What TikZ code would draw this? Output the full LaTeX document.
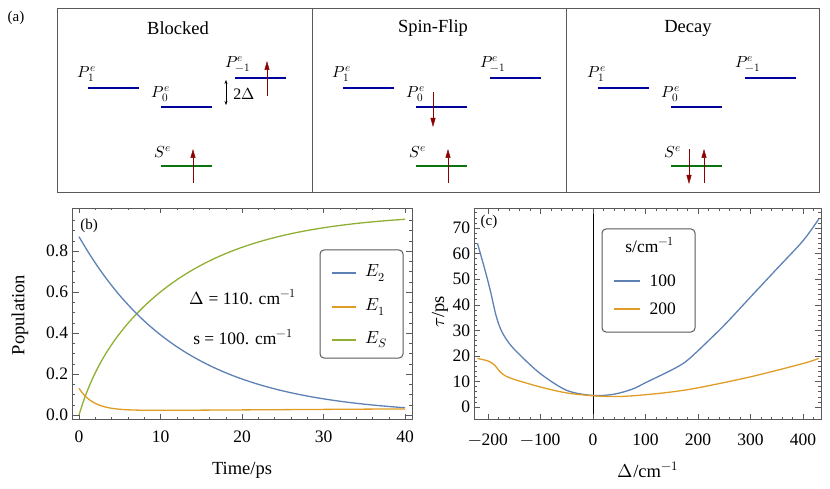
\documentclass[tikz,border=0pt]{standalone}
\usepackage{fontspec}
\setmainfont{Liberation Serif}
\usepackage{unicode-math}
\setmathfont{Latin Modern Math}
\usetikzlibrary{positioning}
\usetikzlibrary{arrows.meta}

\definecolor{mblue}{rgb}{0.368,0.507,0.71}
\definecolor{morange}{rgb}{0.88,0.611,0.142}
\definecolor{mgreen}{rgb}{0.56,0.692,0.195}
\definecolor{levblue}{rgb}{0,0,0.62}
\definecolor{levgreen}{rgb}{0.05,0.45,0.05}
\definecolor{spinred}{rgb}{0.55,0,0}

\tikzset{
  level/.style={line width=2pt},
  spin/.style={spinred, line width=0.5pt, -{Triangle[length=9pt,width=5pt]}},
  ticklab/.style={font=\fontsize{17.5}{17.5}\selectfont, inner sep=1pt},
  frame/.style={draw=gray!70!black, line width=0.6pt},
}

\begin{document}
\begin{tikzpicture}[x=1pt,y=-1pt]
	\useasboundingbox (0,0) rectangle (830,489);

	% Level scheme %
	\node (alab) at (16,18) {\fontsize{15}{15}\selectfont (a)};
	\draw [gray!70!black, line width=0.8pt] (57,8) rectangle (819,192);
	\draw [gray!70!black, line width=0.8pt] (312,8) -- (312,192);
	\draw [gray!70!black, line width=0.8pt] (566,8) -- (566,192);
	\foreach \dx/\name in {0/Blocked,255/Spin{-}Flip,510/Decay}{
		\begin{scope}[xshift=\dx]
			\node (title) at (178,28) {\fontsize{18.5}{18.5}\selectfont \name};
			\draw [level,levblue] (88,88) -- (139,88);
			\draw [level,levblue] (161,107) -- (212,107);
			\draw [level,levblue] (235,78) -- (286,78);
			\draw [level,levgreen] (161,166) -- (212,166);
			\node (p1) at (87,74) {\fontsize{16}{16}\selectfont $P^e_1$};
			\node (p0) at (161,94) {\fontsize{16}{16}\selectfont $P^e_0$};
			\node (pm) at (238,64) {\fontsize{16}{16}\selectfont $P^e_{-1}$};
			\node (se) at (163,152) {\fontsize{16}{16}\selectfont $S^e$};
		\end{scope}
	}
	% Spins %
	\draw [spin] (193,183) -- (193,149);
	\draw [spin] (267,96) -- (267,61);
	\draw [{Stealth[length=4pt]}-{Stealth[length=4pt]}, line width=0.5pt] (226,80) -- (226,105);
	\node (gap) at (244,94) {\fontsize{16}{16}\selectfont 2$\Delta$};
	\draw [spin] (433,92) -- (433,127);
	\draw [spin] (448,183) -- (448,149);
	\draw [spin] (689,149) -- (689,184);
	\draw [spin] (704,183) -- (704,149);

	% Panel b %
	\begin{scope}[shift={(79,415)}, xscale=8.15, yscale=-205]
		\draw [frame] (-0.86,-0.02) rectangle (40.9,1.01);
		\foreach \t in {0,2,...,40}{
			\draw [gray!70!black] (\t,-0.02) -- ++(0,0.012);
			\draw [gray!70!black] (\t,1.01) -- ++(0,-0.012);
		}
		\foreach \t in {0,10,20,30,40}{
			\draw [gray!70!black] (\t,-0.02) -- ++(0,0.025);
			\draw [gray!70!black] (\t,1.01) -- ++(0,-0.025);
			\node [ticklab] (bx\t) at (\t,-0.107) {\t};
		}
		\foreach \p in {0,0.05,...,1.0}{
			\draw [gray!70!black] (-0.86,\p) -- ++(0.4,0);
			\draw [gray!70!black] (40.9,\p) -- ++(-0.4,0);
		}
		\foreach \p/\l in {0/0.0,0.2/0.2,0.4/0.4,0.6/0.6,0.8/0.8}{
			\draw [gray!70!black] (-0.86,\p) -- ++(0.8,0);
			\draw [gray!70!black] (40.9,\p) -- ++(-0.8,0);
			\node [ticklab, anchor=east] (by\l) at (-1.2,\p) {\l};
		}
		\draw [mgreen, line width=1.3pt] plot[domain=0:40, samples=120, smooth]
			(\x,{1-0.87*exp(-\x/12.5)-(0.02+0.00025*\x+0.11*exp(-\x/1.8))+0.02*(1-exp(-\x/8))});
		\draw [mblue, line width=1.3pt] plot[domain=0:40, samples=100, smooth] (\x,{0.87*exp(-\x/12.5)});
		\draw [morange, line width=1.3pt] plot[domain=0:40, samples=100, smooth] (\x,{0.02+0.00025*\x+0.11*exp(-\x/1.8)});
	\end{scope}
	\node (blab) at (89,226) {\fontsize{15}{15}\selectfont (b)};
	\node [rotate=90] (bylab) at (20,315) {\fontsize{18.5}{18.5}\selectfont Population};
	\node (bxlab) at (242,470) {\fontsize{18.5}{18.5}\selectfont Time/ps};
	\node (delta) at (243,297) {\fontsize{17.5}{17.5}\selectfont $\Delta$ = 110. cm$^{-1}$};
	\node (sval) at (243,337) {\fontsize{17.5}{17.5}\selectfont s = 100. cm$^{-1}$};
	\draw [gray!70!black, line width=1pt, rounded corners=4pt] (320,250) rectangle (403,358);
	\foreach \y/\c/\l in {273/mblue/E_2,307/morange/E_1,340/mgreen/E_S}{
		\draw [\c, line width=1.3pt] (332,\y) -- (356,\y);
		\node [anchor=west] (leg\c) at (362,\y) {\fontsize{17.5}{17.5}\selectfont $\l$};
	}

	% Panel c %
	\begin{scope}[shift={(593,407)}, xscale=0.525, yscale=-2.557]
		\draw [frame] (-227,-5) rectangle (434,77.8);
		\draw [black, line width=0.5pt] (0,-5) -- (0,77.8);
		\foreach \d in {-200,-180,...,420}{
			\draw [gray!70!black] (\d,-5) -- ++(0,1.2);
			\draw [gray!70!black] (\d,77.8) -- ++(0,-1.2);
		}
		\foreach \d/\l in {-200/$-$200,-100/$-$100,0/0,100/100,200/200,300/300,400/400}{
			\draw [gray!70!black] (\d,-5) -- ++(0,2.4);
			\draw [gray!70!black] (\d,77.8) -- ++(0,-2.4);
			\node [ticklab] (cx\d) at (\d,-13) {\l};
		}
		\foreach \v in {0,2,...,76}{
			\draw [gray!70!black] (-227,\v) -- ++(6,0);
			\draw [gray!70!black] (434,\v) -- ++(-6,0);
		}
		\foreach \v in {0,10,...,70}{
			\draw [gray!70!black] (-227,\v) -- ++(12,0);
			\draw [gray!70!black] (434,\v) -- ++(-12,0);
			\node [ticklab, anchor=east] (cy\v) at (-232,\v) {\v};
		}
		\draw [mblue, line width=1.3pt] plot[smooth, tension=0.5] coordinates {
			(-220,64) (-205,53) (-195,45) (-185,36) (-175,30) (-160,25) (-140,20.5) (-100,13)
			(-50,6.5) (0,4.5) (40,5) (75,7) (100,9.5) (150,14.5) (175,17.5) (200,22) (250,32)
			(300,43) (350,54) (400,65) (430,73.5)};
		\draw [morange, line width=1.3pt] plot[smooth, tension=0.5] coordinates {
			(-220,19) (-200,18) (-188,16.5) (-178,14) (-168,12.3) (-150,10.8) (-100,7.8)
			(-50,5.5) (0,4.4) (50,4.1) (100,4.8) (150,5.9) (200,7.5) (300,11.8) (400,17) (430,19)};
	\end{scope}
	\node (clab) at (489,222) {\fontsize{15}{15}\selectfont (c)};
	\node [rotate=90] (cylab) at (440,312) {\fontsize{18.5}{18.5}\selectfont $\tau$/ps};
	\node (cxlab) at (648,470) {\fontsize{18.5}{18.5}\selectfont $\Delta$/cm$^{-1}$};
	\draw [gray!70!black, line width=1pt, rounded corners=4pt] (602,229) rectangle (695,332);
	\node (ctitle) at (650,245) {\fontsize{17.5}{17.5}\selectfont s/cm$^{-1}$};
	\draw [mblue, line width=1.3pt] (614,281) -- (640,281);
	\node [anchor=west] (c100) at (646,281) {\fontsize{17.5}{17.5}\selectfont 100};
	\draw [morange, line width=1.3pt] (614,309) -- (640,309);
	\node [anchor=west] (c200) at (646,309) {\fontsize{17.5}{17.5}\selectfont 200};
\end{tikzpicture}
\end{document}
